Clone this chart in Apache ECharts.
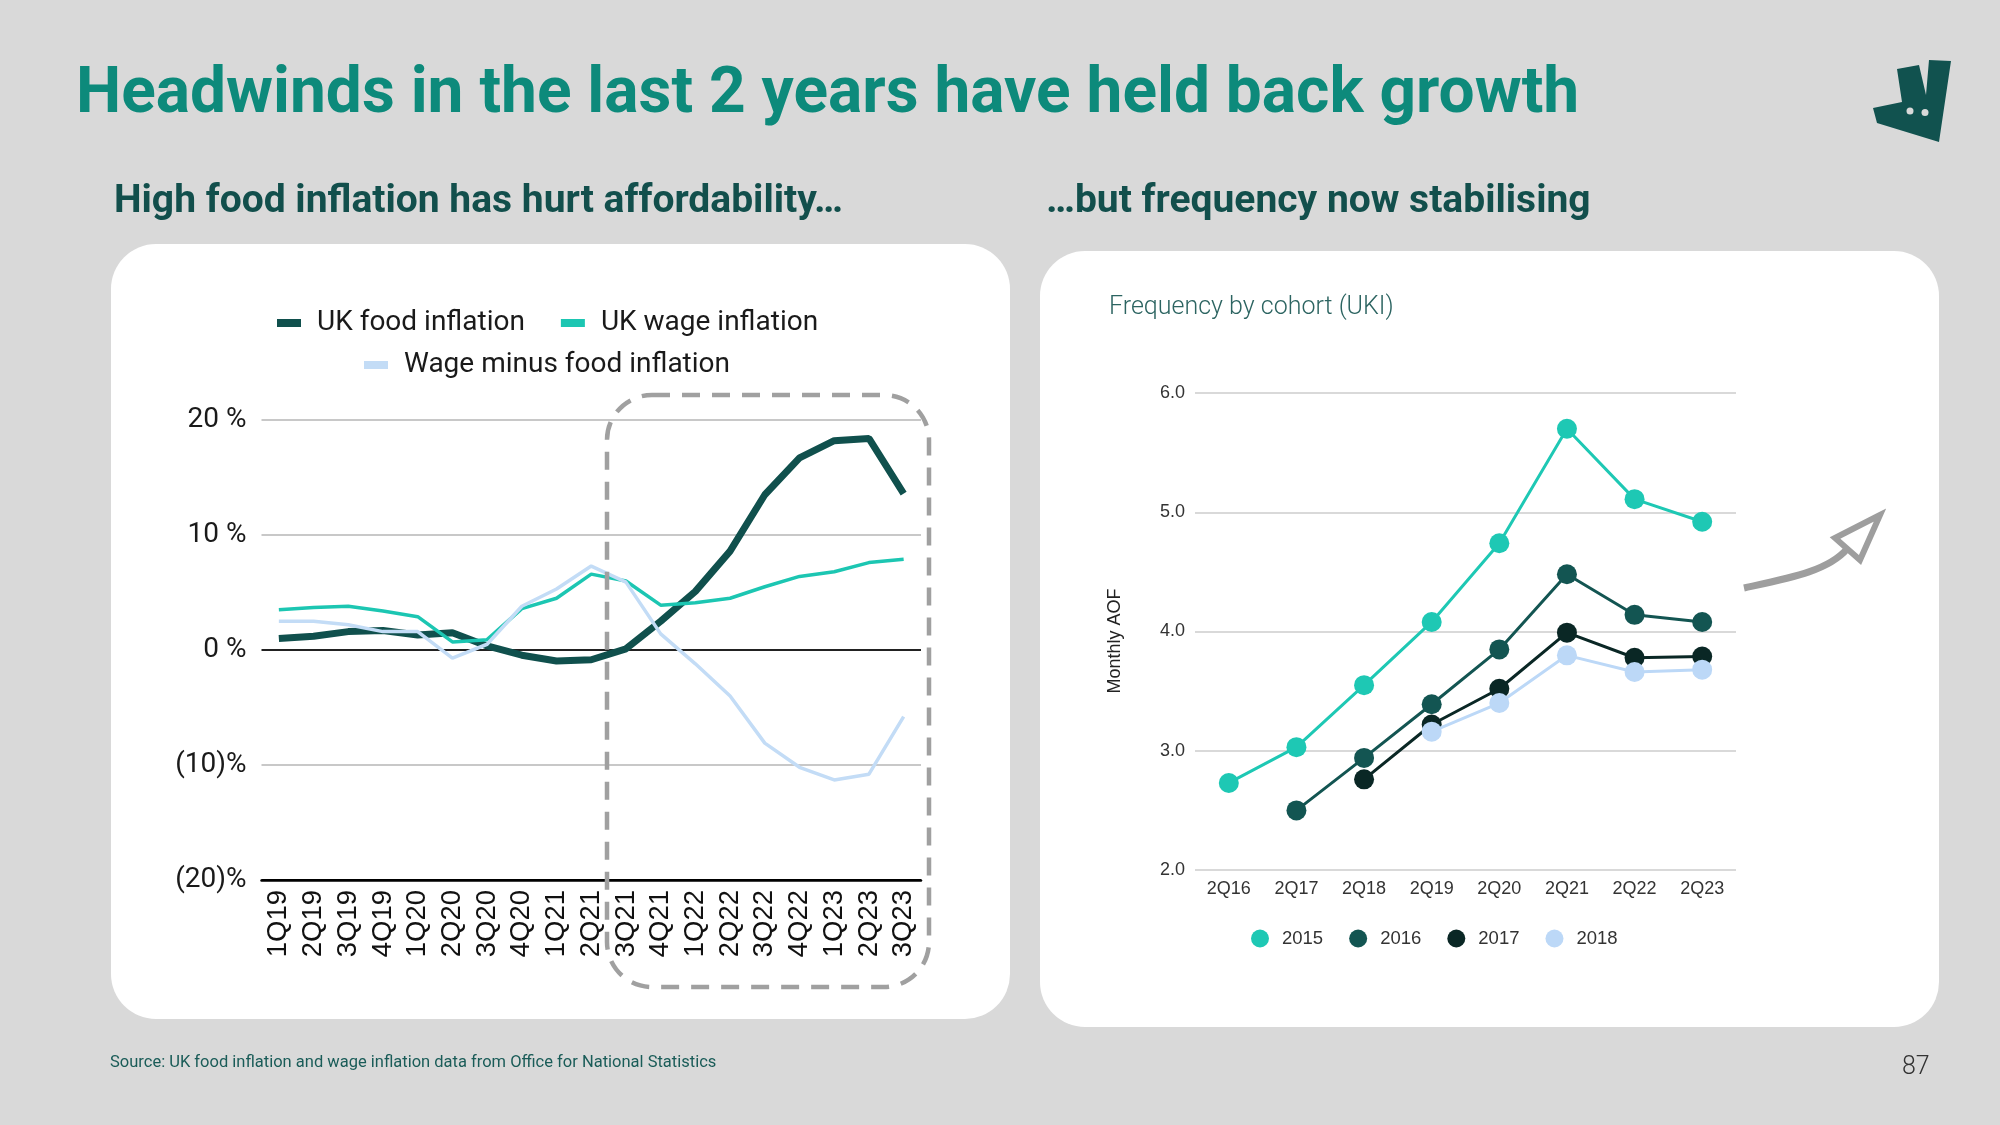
<!DOCTYPE html>
<html>
<head>
<meta charset="utf-8">
<style>
html,body{margin:0;padding:0;background:#d9d9d9;}
#chart{width:2000px;height:1125px;}
</style>
<script src="https://cdn.jsdelivr.net/npm/echarts@6/dist/echarts.min.js"></script>
</head>
<body>
<div id="chart"></div>
<script>
// ---- Left chart data ----
const quarters = ['1Q19','2Q19','3Q19','4Q19','1Q20','2Q20','3Q20','4Q20','1Q21','2Q21','3Q21','4Q21','1Q22','2Q22','3Q22','4Q22','1Q23','2Q23','3Q23'];
const foodInflation = [1.0,1.2,1.6,1.7,1.3,1.5,0.35,-0.45,-0.95,-0.85,0.1,2.5,5.1,8.6,13.5,16.7,18.2,18.4,13.6];
const wageInflation = [3.5,3.7,3.8,3.4,2.9,0.7,0.9,3.6,4.5,6.6,6.0,3.9,4.1,4.5,5.5,6.4,6.8,7.6,7.9];
const wageMinusFood = [2.5,2.5,2.2,1.6,1.6,-0.7,0.5,3.8,5.3,7.3,5.9,1.4,-1.2,-4.0,-8.1,-10.2,-11.3,-10.8,-5.8];
const leftSeriesNames = ['UK food inflation','UK wage inflation','Wage minus food inflation'];

// ---- Right chart data ----
const cohortQuarters = ['2Q16','2Q17','2Q18','2Q19','2Q20','2Q21','2Q22','2Q23'];
const cohortNames = ['2015','2016','2017','2018'];
const cohort2015 = [2.73,3.03,3.55,4.08,4.74,5.70,5.11,4.92];
const cohort2016 = [null,2.50,2.94,3.39,3.85,4.48,4.14,4.08];
const cohort2017 = [null,null,2.76,3.22,3.52,3.99,3.78,3.79];
const cohort2018 = [null,null,null,3.16,3.40,3.80,3.66,3.68];

// ---- Texts ----
const headline = 'Headwinds in the last 2 years have held back growth';
const subLeft = 'High food inflation has hurt affordability…';
const subRight = '…but frequency now stabilising';
const rightTitle = 'Frequency by cohort (UKI)';
const rightAxisName = 'Monthly AOF';
const sourceText = 'Source: UK food inflation and wage inflation data from Office for National Statistics';
const pageNo = '87';

const C = {
  food:'#10504d', wage:'#1cc6b2', diff:'#c3dcf6',
  c15:'#1ec8b4', c16:'#135552', c17:'#0a2725', c18:'#bcd8f7'
};

const chart = echarts.init(document.getElementById('chart'), null, {renderer:'canvas'});

function pctFmt(v){
  if (v === 0) return '0 %';
  if (v > 0) return v + ' %';
  return '(' + (-v) + ')%';
}

const option = {
  backgroundColor:'#d9d9d9',
  animation:false,
  textStyle:{fontFamily:'Roboto'},
  graphic:[
    {type:'rect', z:-10, shape:{x:111, y:244, width:899, height:775, r:45}, style:{fill:'#ffffff'}},
    {type:'rect', z:-10, shape:{x:1040, y:251, width:899, height:776, r:45}, style:{fill:'#ffffff'}},
    {type:'text', x:76, y:96, style:{text:headline, font:'bold 64px Roboto', fill:'#0d8a7b', verticalAlign:'middle'}},
    {type:'text', x:114, y:202, style:{text:subLeft, font:'bold 39px Roboto', fill:'#124f4c', verticalAlign:'middle'}},
    {type:'text', x:1046, y:202, style:{text:subRight, font:'bold 39px Roboto', fill:'#124f4c', verticalAlign:'middle'}},
    {type:'text', x:1109, y:308, style:{text:rightTitle, font:'300 25px Roboto', fill:'#2c6461', verticalAlign:'middle'}},
    {type:'text', x:1115, y:641, rotation:Math.PI/2, style:{text:rightAxisName, font:'18px "Liberation Sans"', fill:'#222', align:'center', verticalAlign:'middle'}},
    {type:'text', x:110, y:1063, style:{text:sourceText, font:'16.5px Roboto', fill:'#1a5c58', verticalAlign:'middle'}},
    {type:'text', x:1902, y:1068, style:{text:pageNo, font:'300 25px Roboto', fill:'#333333', verticalAlign:'middle'}},
    // logo
    {type:'polygon', shape:{points:[[1897,69],[1919,65],[1926,95],[1929,60],[1951,61],[1939,142],[1877,123],[1873,108],[1902,102]]}, style:{fill:'#11524f'}},
    {type:'circle', shape:{cx:1910, cy:111, r:3.5}, style:{fill:'#d9d9d9'}},
    {type:'circle', shape:{cx:1925, cy:112.5, r:3.5}, style:{fill:'#d9d9d9'}},
    // dashed highlight box
    {type:'rect', z:10, shape:{x:607, y:395, width:322, height:592, r:45}, style:{fill:'none', stroke:'#a0a0a0', lineWidth:4.5, lineDash:[18,12]}},
    // arrow
    {type:'bezierCurve', z:10, shape:{x1:1744, y1:588, cpx1:1790, cpy1:578, cpx2:1828, cpy2:571, x2:1847, y2:549}, style:{fill:'none', stroke:'#9e9e9e', lineWidth:7}},
    {type:'polygon', z:10, shape:{points:[[1880,515],[1835,538],[1860,560]]}, style:{fill:'none', stroke:'#9e9e9e', lineWidth:6, lineJoin:'miter'}}
  ],
  legend:[
    {left:272, top:304, data:[leftSeriesNames[0], leftSeriesNames[1]], itemWidth:24, itemHeight:8, icon:'rect', itemGap:36,
     textStyle:{fontFamily:'Roboto', fontSize:28, color:'#1a1a1a', padding:[0,0,0,11]}},
    {left:359, top:346, data:[leftSeriesNames[2]], itemWidth:24, itemHeight:8, icon:'rect',
     textStyle:{fontFamily:'Roboto', fontSize:28, color:'#1a1a1a', padding:[0,0,0,11]}},
    {left:1246, top:924, data:cohortNames, itemWidth:18, itemHeight:18, icon:'circle', itemGap:26,
     textStyle:{fontFamily:'Liberation Sans', fontSize:18.5, color:'#333', padding:[0,0,0,8]}}
  ],
  grid:[
    {left:261.5, top:420, width:659.5, height:460, containLabel:false},
    {left:1195, top:393, width:541, height:477, containLabel:false}
  ],
  xAxis:[
    {type:'category', gridIndex:0, data:quarters, boundaryGap:true,
     axisLine:{show:true, onZero:false, lineStyle:{color:'#000', width:2.5}},
     axisTick:{show:false},
     axisLabel:{rotate:90, interval:0, margin:10, fontFamily:'Liberation Sans', fontSize:27.5, color:'#111'}},
    {type:'category', gridIndex:1, data:cohortQuarters, boundaryGap:true,
     axisLine:{show:false}, axisTick:{show:false},
     axisLabel:{interval:0, margin:10, fontFamily:'Liberation Sans', fontSize:18, color:'#333'}}
  ],
  yAxis:[
    {type:'value', gridIndex:0, min:-20, max:20, interval:10,
     axisLine:{show:false}, axisTick:{show:false},
     axisLabel:{formatter:pctFmt, margin:15, fontFamily:'Roboto', fontSize:28, color:'#1a1a1a'},
     splitLine:{show:true, lineStyle:{color:['#000000','#c8c8c8','#222222','#c8c8c8','#c8c8c8'], width:2}}},
    {type:'value', gridIndex:1, min:2, max:6, interval:1,
     axisLine:{show:false}, axisTick:{show:false},
     axisLabel:{formatter:function(v){return v.toFixed(1);}, margin:10, fontFamily:'Liberation Sans', fontSize:18, color:'#333'},
     splitLine:{show:true, lineStyle:{color:'#cccccc', width:1.5}}}
  ],
  series:[
    {name:leftSeriesNames[0], type:'line', xAxisIndex:0, yAxisIndex:0, data:foodInflation, showSymbol:false, symbol:'none',
     lineStyle:{color:C.food, width:7}, itemStyle:{color:C.food}, z:3},
    {name:leftSeriesNames[1], type:'line', xAxisIndex:0, yAxisIndex:0, data:wageInflation, showSymbol:false, symbol:'none',
     lineStyle:{color:C.wage, width:3.5}, itemStyle:{color:C.wage}, z:4},
    {name:leftSeriesNames[2], type:'line', xAxisIndex:0, yAxisIndex:0, data:wageMinusFood, showSymbol:false, symbol:'none',
     lineStyle:{color:C.diff, width:3.5}, itemStyle:{color:C.diff}, z:5},
    {name:cohortNames[0], type:'line', xAxisIndex:1, yAxisIndex:1, data:cohort2015, symbol:'circle', symbolSize:20,
     lineStyle:{color:C.c15, width:3}, itemStyle:{color:C.c15}, z:3},
    {name:cohortNames[1], type:'line', xAxisIndex:1, yAxisIndex:1, data:cohort2016, symbol:'circle', symbolSize:20,
     lineStyle:{color:C.c16, width:3}, itemStyle:{color:C.c16}, z:4},
    {name:cohortNames[2], type:'line', xAxisIndex:1, yAxisIndex:1, data:cohort2017, symbol:'circle', symbolSize:20,
     lineStyle:{color:C.c17, width:3}, itemStyle:{color:C.c17}, z:5},
    {name:cohortNames[3], type:'line', xAxisIndex:1, yAxisIndex:1, data:cohort2018, symbol:'circle', symbolSize:20,
     lineStyle:{color:C.c18, width:3}, itemStyle:{color:C.c18}, z:6}
  ]
};
chart.setOption(option);
</script>
</body>
</html>
